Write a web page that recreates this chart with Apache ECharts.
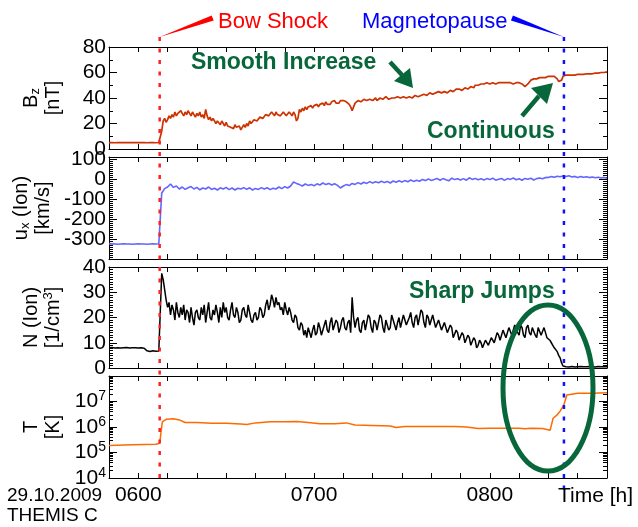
<!DOCTYPE html>
<html lang="en">
<head>
<meta charset="UTF-8">
<title>THEMIS C 29.10.2009</title>
<script src="https://cdn.jsdelivr.net/npm/echarts@6/dist/echarts.min.js"></script>
<style>
  html, body { margin: 0; padding: 0; background: #fff; }
  #chart { width: 638px; height: 527px; }
</style>
</head>
<body>
<div id="chart"></div>
<script>
// time in minutes of the day; samples start at 05:50
var startMinute = 350;
var bowShockMinute = 367.3;
var magnetopauseMinute = 505.3;

// Bz [nT], one sample every 30 s
var bzValues = [
  5, 5, 5.1, 5, 4.9, 5, 5, 5.1, 5, 4.9, 5, 5, 5.1, 5, 5, 4.9, 5, 5, 5.1, 5, 5, 4.9, 5, 5.1, 5, 5, 4.9, 5, 5, 5.1, 5, 5, 4.9, 5, 5.1, 5,
  14, 22, 24, 21, 23, 26, 24, 27, 25, 29, 26, 28, 27, 30, 28, 26, 29, 27, 30, 28, 26, 29, 27, 25,
  28, 26, 29, 25, 27, 24, 31, 26, 23, 25, 22, 24, 23, 20, 22, 21, 19, 22, 20, 18,
  21, 18, 19, 17, 18, 16, 19, 17, 16, 18, 15, 17, 19, 17, 20, 18, 22, 20, 21, 23,
  24, 22, 23, 25, 26, 24, 25, 27, 28, 26, 27, 29, 28, 26, 29, 27, 28, 26, 27, 29,
  28, 26, 27, 29, 28, 26, 29, 27, 22, 24, 31, 29, 32, 30, 33, 31, 33, 32, 34, 32,
  34, 33, 35, 33, 35, 34, 36, 34, 37, 35, 36, 35, 37, 36, 38, 36, 37, 36, 38, 37,
  38, 37, 37, 36, 35, 33, 30, 33, 36, 35, 38, 37, 37, 36, 39, 38, 38, 37, 39, 38,
  38, 39, 40, 38, 39, 40, 40, 39, 39, 41, 40, 39, 39, 40, 41, 40, 40, 41, 41, 40,
  40, 41, 41, 40, 40, 41, 41, 40, 40, 42, 42, 41, 41, 42, 42, 43, 43, 42, 43, 44,
  44, 43, 43, 44, 44, 45, 45, 44, 44, 45, 45, 44, 45, 46, 46, 45, 46, 47, 46, 47,
  47, 46, 47, 48, 48, 47, 48, 49, 49, 48, 50, 49, 50, 51, 51, 50, 51, 52, 52, 51,
  51, 52, 52, 51, 51, 52, 52, 51, 52, 53, 52, 51, 52, 52, 52, 51, 51, 52, 52, 51,
  52, 52, 51, 50, 49, 50, 51, 52, 54, 55, 55, 54, 55, 56, 56, 55, 56, 57, 56, 56,
  57, 56, 57, 57, 57, 56, 55, 53, 53, 54,
  57, 58, 58, 57.5, 58, 58, 58, 58.5, 58, 58.5, 58.5, 58.5, 58.5, 59, 58.5, 59, 59, 59, 59, 59.5,
  59, 59.5, 59.5, 60, 59.5, 60, 60, 60, 60, 60.5, 60.5
];

// ux (Ion) [km/s], one sample per minute
var uxValues = [
  -325, -324, -325, -326, -325, -324, -325, -325, -326, -325, -324, -325, -325, -326, -325, -324, -325, -324,
  -70, -48, -40, -25, -42, -35, -50, -40, -52, -44, -38, -50,
  -42, -54, -45, -50, -40, -52, -46, -55, -44, -50,
  -42, -53, -45, -55, -46, -50, -43, -52, -44, -55,
  -47, -52, -43, -50, -44, -53, -46, -50, -40, -48,
  -38, -45, -35, -15, -22, -28, -35, -25, -32, -27,
  -34, -24, -30, -20, -28, -22, -30, -24, -32, -45,
  -35, -28, -33, -22, -27, -18, -25, -16, -22, -13,
  -20, -14, -19, -11, -18, -12, -20, -10, -16, -9,
  -15, -8, -14, -5, -12, -6, -11, -2, -8, 0,
  -7, -3, 3, -6, 2, -4, -9, 4, -3, 1,
  -5, 2, -6, 6, -2, 3, -4, 1, -5, 2,
  -3, 4, -6, -1, 3, -7, 2, -2, 5, -4,
  1, -6, 3, -1, 4, -5, 2, 5, 1, 7,
  8, 12, 9, 14, 11, 15, 12, 16, 10, 13,
  8, 12, 9, 11, 7, 10, 6, 9, 5, 8, 4
];

// N (Ion) [1/cm3], one sample every 30 s
var nValues = [
  8, 8, 8.1, 8, 7.9, 8, 8, 8.1, 7.9, 8, 8, 8, 8.1, 8, 7.9, 8, 8, 8.1, 8, 8, 7.9, 8, 8, 7.9, 7.8, 7.7,
  6.8, 6.6, 6.5, 6.6, 6.8, 6.7, 6.6, 6.8, 6.7, 7.0,
  37.5, 35, 31, 27, 24, 26, 21, 25, 23, 19, 26, 22, 20, 24, 21, 25, 19, 23, 22, 18, 24, 20, 17, 22,
  23, 20, 19, 24, 21, 25, 18, 22, 26, 20, 19, 23, 21, 25, 22, 18, 24, 20, 26, 22,
  24, 20, 19, 23, 26, 21, 20, 24, 22, 18, 19, 23, 24, 21, 20, 25, 22, 19, 18, 21,
  22, 19, 20, 24, 23, 20, 21, 25, 27, 23, 25, 29, 27, 24, 28, 25, 26, 23, 24, 21,
  26, 23, 21, 24, 22, 19, 18, 21, 20, 16, 15, 18, 17, 13, 15, 12, 16, 14, 12, 15,
  17, 13, 14, 18, 16, 13, 13, 17, 19, 15, 14, 18, 20, 15, 15, 19, 18, 14, 16, 19,
  20, 16, 15, 18, 19, 14, 28, 20, 16, 19, 20, 15, 14, 18, 19, 15, 15, 21, 20, 16,
  14, 19, 18, 15, 15, 21, 20, 16, 14, 19, 19, 15, 16, 21, 21, 17, 15, 18, 20, 16,
  16, 21, 21, 17, 17, 20, 22, 18, 16, 20, 21, 17, 17, 23, 22, 18, 16, 21, 20, 17,
  17, 21, 21, 16, 16, 19, 19, 15, 15, 18, 18, 14, 14, 17, 16, 12, 12, 15, 14, 11,
  11, 14, 13, 10, 10, 13, 12, 9, 9, 12, 11, 8, 9, 11, 10, 8, 8, 11, 11, 9,
  9, 12, 12, 10, 10, 14, 13, 11, 11, 15, 15, 12, 12, 16, 16, 13, 13, 17, 17, 14,
  13, 17, 16, 13, 12, 16, 17, 14, 13, 16, 16, 13, 12, 16, 16, 13, 13, 16, 14, 12,
  12, 11, 10, 9, 8, 8.5, 6.5, 5, 4, 2,
  0.8, 0.6, 0.5, 0.6, 0.4, 0.5, 0.6, 0.5, 0.4, 0.6, 0.5, 0.5, 0.6, 0.4, 0.5, 0.6, 0.5, 0.4, 0.6, 0.5,
  0.5, 0.6, 0.4, 0.5, 0.6, 0.5, 0.5, 0.4, 0.6, 0.5, 0.5
];

// T [K], coarser sampling
var tMinutes = [350, 358, 366, 367.3, 368.2, 369.5, 372, 374, 376, 380, 385, 390, 395, 397, 400, 405, 410, 414,
  418, 422, 427, 431, 434, 440, 446, 448, 451, 460, 468, 472, 476, 480, 486, 490, 492, 494, 498,
  500.6, 501.6, 503, 504, 505.2, 506.3, 510, 515, 520];
var tValues = [1.9e5, 2.0e5, 2.1e5, 2.3e5, 1.6e6, 2.0e6, 2.1e6, 1.9e6, 1.5e6, 1.5e6, 1.4e6, 1.4e6, 1.3e6, 1.25e6, 1.45e6, 1.6e6, 1.6e6, 1.65e6,
  1.5e6, 1.35e6, 1.35e6, 1.45e6, 1.2e6, 1.15e6, 1.1e6, 9.5e5, 1.05e6, 1.05e6, 1.05e6, 1.0e6, 8.8e5, 9.0e5, 9.0e5, 9.0e5, 8.5e5, 9.0e5, 8.8e5,
  7.5e5, 2.2e6, 3.0e6, 4.2e6, 7e6, 1.8e7, 2.1e7, 2.1e7, 2.2e7];

var FONT = "'Liberation Sans', Arial, sans-serif";
var GREEN = '#07673a';

function sampled(values, step) {
  return values.map(function (v, i) { return [startMinute + i * step, v]; });
}

var grids = [
  {left: 109, width: 498, top: 47, height: 102},
  {left: 109, width: 498, top: 157, height: 102},
  {left: 109, width: 498, top: 267, height: 101},
  {left: 109, width: 498, top: 376, height: 102},
  {left: 109, width: 498, top: 376, height: 102}   // overlay for log minor ticks
];

function timeAxis(grid, pos, withLabels) {
  return {
    type: 'value', gridIndex: grid, position: pos, min: 350, max: 520, interval: 10,
    axisLine: {show: true, onZero: false, lineStyle: {color: '#000', width: 1}},
    axisTick: {show: true, inside: true, length: 5, lineStyle: {color: '#000'}},
    axisLabel: {
      show: withLabels, margin: 7, color: '#000', fontSize: 21, fontFamily: FONT,
      formatter: function (v) { return v % 60 === 0 ? '0' + (v / 60) + '00' : ''; }
    },
    splitLine: {show: false}
  };
}

var nameRich = {
  t: {fontSize: 20, fontFamily: FONT, color: '#000', lineHeight: 22},
  s: {fontSize: 13, fontFamily: FONT, color: '#000', lineHeight: 11, verticalAlign: 'bottom'},
  p: {fontSize: 13, fontFamily: FONT, color: '#000', lineHeight: 11, verticalAlign: 'top'}
};

function valueAxis(grid, pos, cfg) {
  var left = pos === 'left';
  return {
    type: cfg.type || 'value', gridIndex: grid, position: pos, min: cfg.min, max: cfg.max,
    interval: cfg.interval,
    name: left ? cfg.name : '', nameLocation: 'middle', nameRotate: 90, nameGap: 45,
    nameTextStyle: {rich: nameRich},
    axisLine: {show: true, onZero: false, lineStyle: {color: '#000', width: 1}},
    axisTick: {show: true, inside: true, length: 8, lineStyle: {color: '#000'}},
    minorTick: {show: !!cfg.minor, splitNumber: cfg.minor || 5, length: 4, lineStyle: {color: '#000'}},
    axisLabel: {
      show: left, margin: 3, color: '#000', fontSize: 21, fontFamily: FONT, lineHeight: 24,
      formatter: cfg.fmt,
      rich: {sup: {fontSize: 14, fontFamily: FONT, color: '#000', lineHeight: 12, verticalAlign: 'top'}}
    },
    splitLine: {show: false},
    minorSplitLine: {show: false}
  };
}

var axesCfg = [
  {min: 0, max: 80, interval: 20, minor: 2, name: '{t|B}{s|z}\n{t|[nT]}'},
  {min: -400, max: 110, interval: 100, minor: 10, name: '{t|u}{s|x}{t| (Ion)}\n{t|[km/s]}',
    fmt: function (v) { return (v % 100 === 0 && v > -400) ? String(v) : ''; }},
  {min: 0, max: 40, interval: 10, minor: 10, name: '{t|N (Ion)}\n{t|[1/cm}{p|3}{t|]}'},
  {type: 'log', min: 1e4, max: 1e8, name: '{t|T}\n{t|[K]}',
    fmt: function (v) { var e = Math.round(Math.log10(v)); return e === 8 ? '' : '10{sup|' + e + '}'; }}
];

var xAxes = [], yAxes = [];
for (var i = 0; i < 4; i++) {
  xAxes.push(timeAxis(i, 'bottom', i === 3));
  xAxes.push(timeAxis(i, 'top', false));
  yAxes.push(valueAxis(i, 'left', axesCfg[i]));
  yAxes.push(valueAxis(i, 'right', axesCfg[i]));
}

// minor ticks 2..9 for each decade of the T axis, in log10 units
var logMinor = [];
for (var d = 4; d < 8; d++) {
  for (var k = 2; k < 10; k++) logMinor.push(Math.log10(k) + d);
}
xAxes.push({type: 'value', gridIndex: 4, min: 350, max: 520, show: false});
['left', 'right'].forEach(function (pos) {
  yAxes.push({
    type: 'value', gridIndex: 4, position: pos, min: 4, max: 8,
    axisLine: {show: false},
    axisTick: {show: true, inside: true, length: 4, customValues: logMinor, lineStyle: {color: '#000'}},
    axisLabel: {show: false},
    splitLine: {show: false}
  });
});

function lineSeries(idx, data, color, width) {
  return {
    type: 'line', xAxisIndex: idx * 2, yAxisIndex: idx * 2, data: data,
    showSymbol: false, sampling: null, silent: true,
    lineStyle: {color: color, width: width}
  };
}

var chart = echarts.init(document.getElementById('chart'));
chart.setOption({
  animation: false,
  textStyle: {fontFamily: FONT},
  grid: grids,
  xAxis: xAxes,
  yAxis: yAxes,
  series: [
    lineSeries(0, sampled(bzValues, 0.5), '#cc3300', 1.7),
    lineSeries(1, sampled(uxValues, 1), '#6464ff', 1.6),
    lineSeries(2, sampled(nValues, 0.5), '#000000', 1.5),
    lineSeries(3, tMinutes.map(function (t, i) { return [t, tValues[i]]; }), '#ff6a00', 1.5)
  ]
});

var bowX = chart.convertToPixel({xAxisIndex: 0}, bowShockMinute);
var mpX = chart.convertToPixel({xAxisIndex: 0}, magnetopauseMinute);

function label(text, x, y, size, color, bold) {
  return {
    type: 'text', x: x, y: y, z: 20,
    style: {
      text: text, fill: color,
      font: (bold ? 'bold ' : '') + size + 'px ' + FONT,
      textAlign: 'left', textVerticalAlign: 'middle', align: 'left', verticalAlign: 'middle'
    }
  };
}

function arrow(x1, y1, bx, by, tip, c1, c2) {
  return [
    {type: 'line', z: 20, shape: {x1: x1, y1: y1, x2: bx, y2: by}, style: {stroke: GREEN, lineWidth: 4.5}},
    {type: 'polygon', z: 20, shape: {points: [tip, c1, c2]}, style: {fill: GREEN}}
  ];
}

var elements = [
  {type: 'line', z: 15, shape: {x1: bowX, y1: 37, x2: bowX, y2: 478},
    style: {stroke: '#ff2020', lineWidth: 2.5, lineDash: [4, 7.5]}},
  {type: 'line', z: 15, shape: {x1: mpX, y1: 37, x2: mpX, y2: 490},
    style: {stroke: '#1010ff', lineWidth: 2.5, lineDash: [4, 7.5]}},
  {type: 'polygon', z: 15, shape: {points: [[bowX, 37], [bowX + 52, 15.5], [bowX + 54, 20.5]]}, style: {fill: '#ff0000'}},
  {type: 'polygon', z: 15, shape: {points: [[mpX, 37], [mpX - 51, 15.5], [mpX - 53, 20.5]]}, style: {fill: '#0000ff'}},
  label('Bow Shock', 218, 22, 22, '#ff0000', false),
  label('Magnetopause', 362, 22, 22, '#0000ff', false),
  label('Smooth Increase', 191, 63, 23, GREEN, true),
  label('Continuous', 427, 132, 23, GREEN, true),
  label('Sharp Jumps', 409, 292, 23, GREEN, true),
  {type: 'ellipse', z: 20, shape: {cx: 548, cy: 388, rx: 45, ry: 83},
    style: {fill: 'transparent', stroke: GREEN, lineWidth: 5}},
  label('29.10.2009', 7, 496, 19, '#000', false),
  label('THEMIS C', 7, 516, 19, '#000', false),
  label('Time [h]', 558, 496, 21, '#000', false)
];
elements = elements
  .concat(arrow(390, 62, 402, 75, [413, 88], [394, 81], [410, 68]))
  .concat(arrow(522, 116, 539, 96, [553, 83], [531, 88], [547, 104]));

chart.setOption({graphic: {elements: elements}});
</script>
</body>
</html>
